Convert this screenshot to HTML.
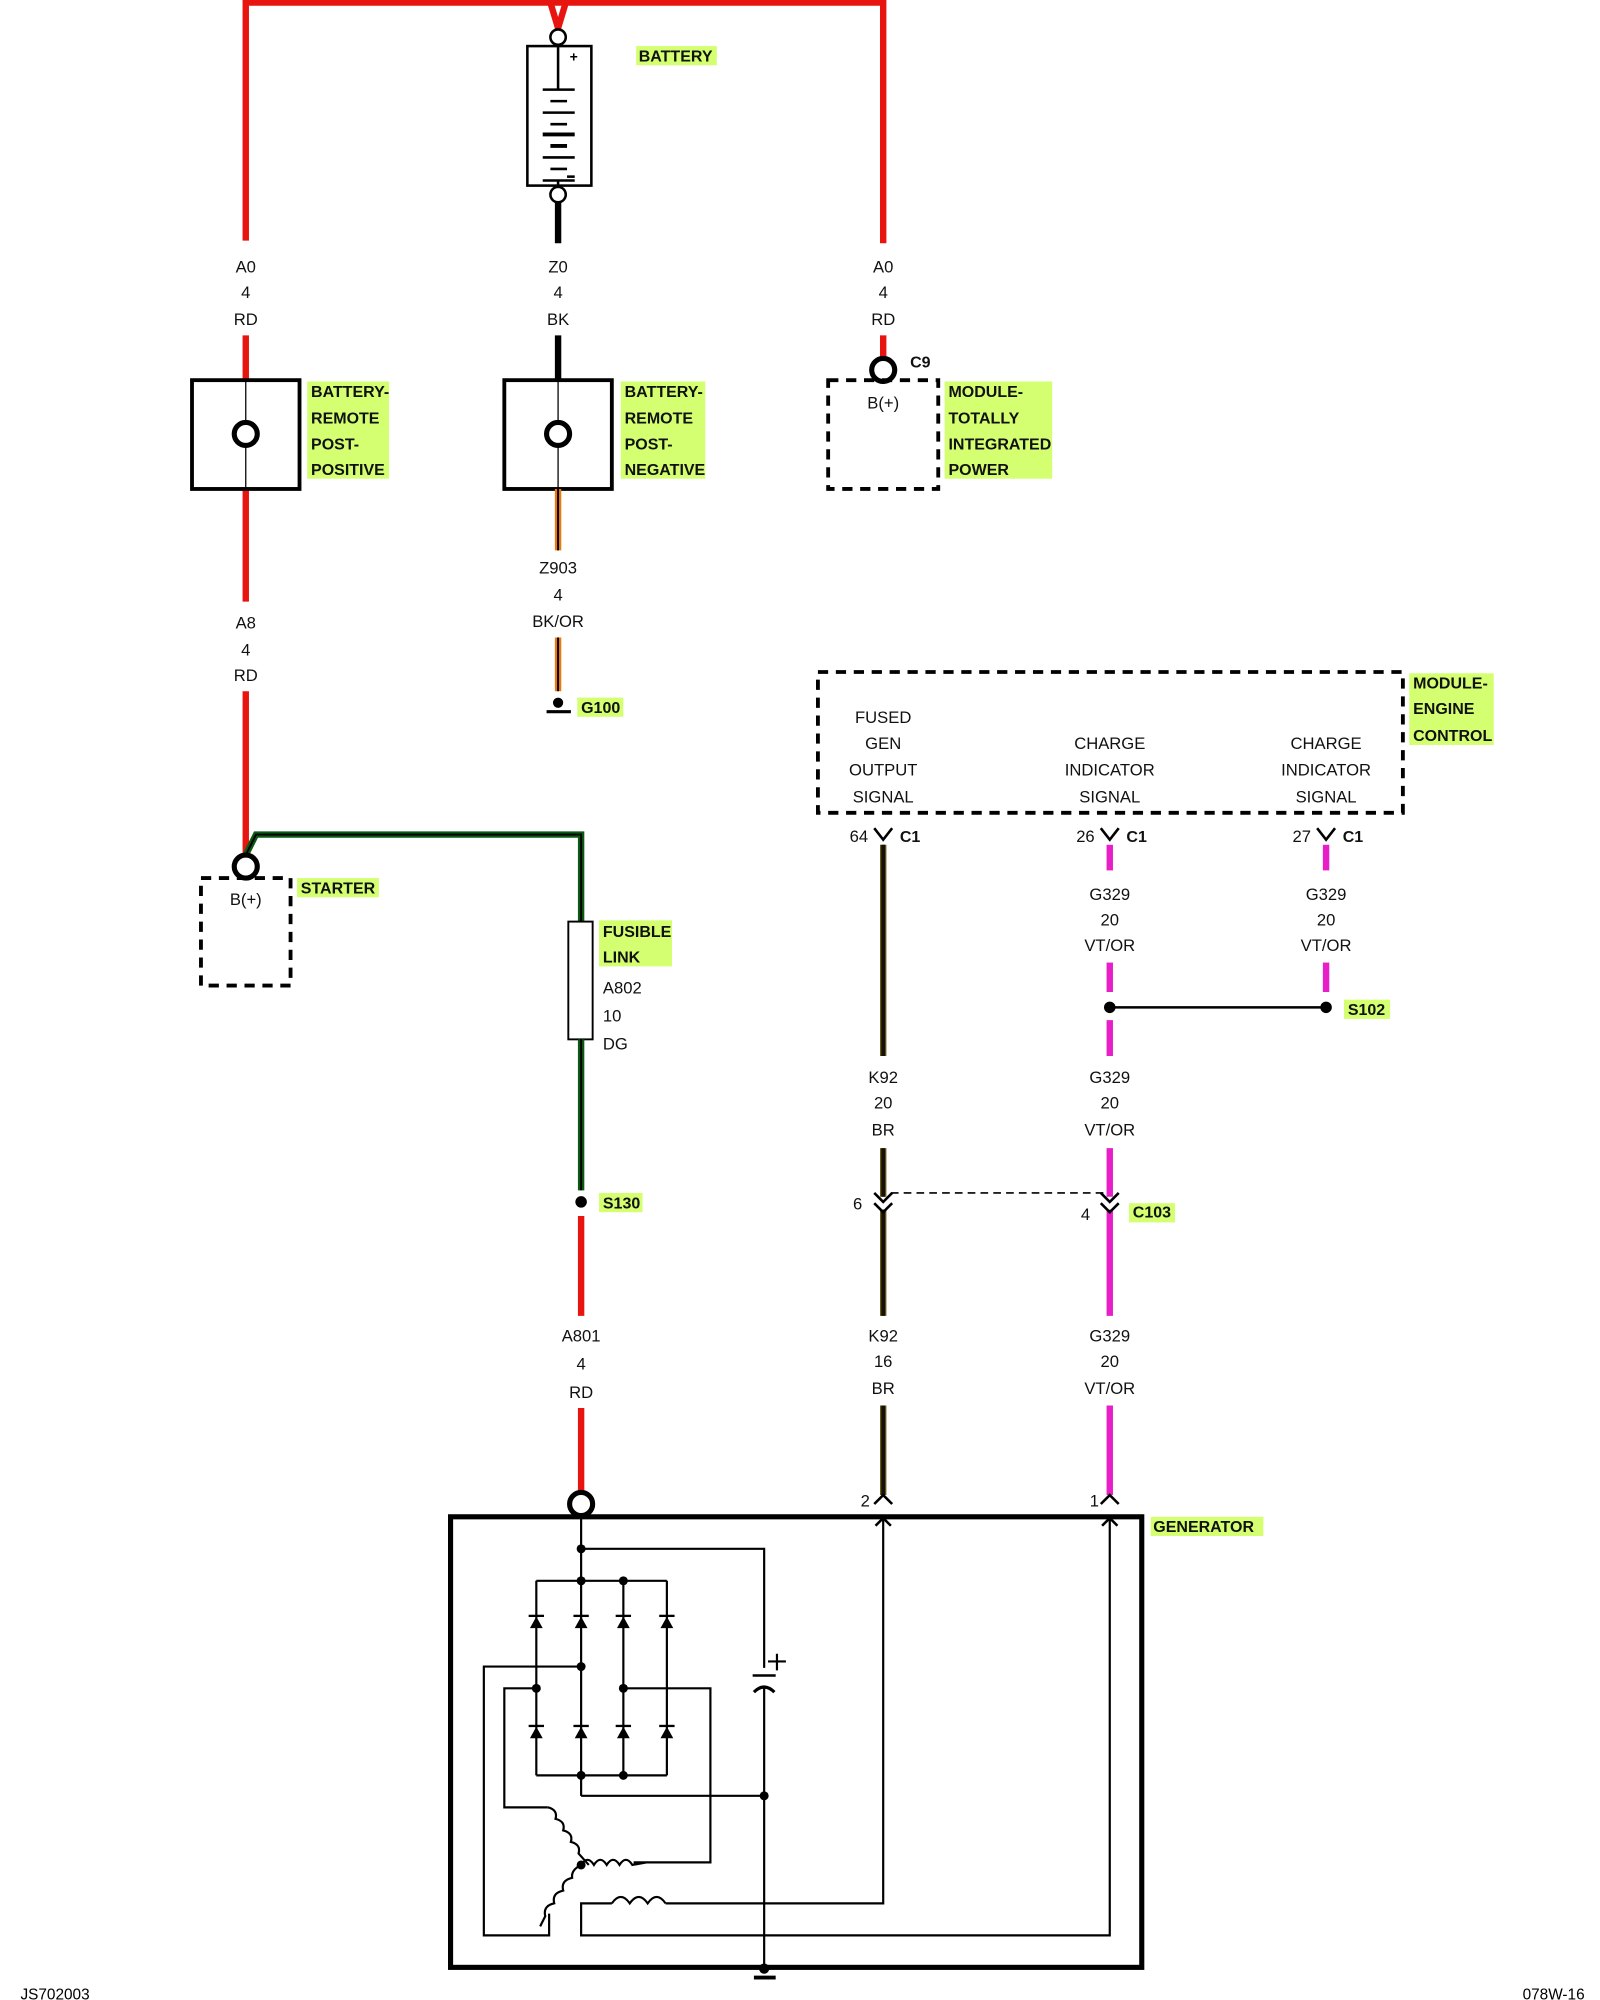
<!DOCTYPE html>
<html><head><meta charset="utf-8"><style>
html,body{margin:0;padding:0;background:#fff}
svg{display:block}
text{font-family:"Liberation Sans",sans-serif}
.l{font-size:13px;text-anchor:middle;fill:#111}
.b{font-size:12.5px;font-weight:bold;fill:#111}
</style></head><body>
<svg width="1600" height="2000" viewBox="0 0 1250 1562.5" preserveAspectRatio="none" xmlns="http://www.w3.org/2000/svg">
<defs><g id="d"><polygon points="-5,5 5,5 0,-4"/><rect x="-6" y="-5.5" width="12" height="1.8"/></g></defs>
<g fill="#d4ff70">
<rect x="497" y="36" width="63" height="15"/>
<rect x="240" y="298" width="64" height="76"/>
<rect x="485" y="298" width="66" height="76"/>
<rect x="738" y="298" width="84" height="76"/>
<rect x="451" y="545" width="36" height="15"/>
<rect x="1101" y="526" width="66" height="56"/>
<rect x="232" y="686" width="64" height="15"/>
<rect x="468" y="719" width="57" height="36"/>
<rect x="468" y="932" width="34" height="15"/>
<rect x="882" y="940" width="36" height="15"/>
<rect x="1050" y="781" width="36" height="15"/>
<rect x="899" y="1185" width="88" height="15"/>
</g>
<g fill="none" stroke="#e8140f" stroke-width="5">
<polyline points="192,188 192,2 690,2 690,190"/>
<polyline points="430,2 436,22 442,2"/>
<line x1="192" y1="262" x2="192" y2="297"/>
<line x1="192" y1="382" x2="192" y2="470"/>
<line x1="192" y1="540" x2="192" y2="668"/>
<line x1="690" y1="262" x2="690" y2="280"/>
<line x1="454" y1="950" x2="454" y2="1028"/>
<line x1="454" y1="1100" x2="454" y2="1165"/>
</g>
<circle cx="436" cy="29" r="6" fill="#fff" stroke="#000" stroke-width="2"/>
<rect x="412" y="36" width="50" height="109" fill="#fff" stroke="#000" stroke-width="2"/>
<circle cx="436" cy="152" r="6" fill="#fff" stroke="#000" stroke-width="2"/>
<g stroke="#000" stroke-width="2">
<line x1="436" y1="35" x2="436" y2="70"/>
<line x1="424" y1="70" x2="449" y2="70"/><line x1="430" y1="79" x2="443" y2="79"/>
<line x1="424" y1="88" x2="449" y2="88"/><line x1="430" y1="97" x2="443" y2="97"/>
<line x1="424" y1="105" x2="449" y2="105" stroke-width="3"/><line x1="430" y1="114" x2="443" y2="114" stroke-width="3"/>
<line x1="424" y1="123" x2="449" y2="123"/><line x1="430" y1="132" x2="443" y2="132"/>
<line x1="424" y1="141" x2="449" y2="141"/>
<line x1="436" y1="141" x2="436" y2="146"/>
<line x1="443" y1="138" x2="449" y2="138"/>
</g>
<text x="445" y="48" font-size="11" font-weight="bold">+</text>
<line x1="436" y1="158" x2="436" y2="190" stroke="#000" stroke-width="5"/>
<text x="499" y="48" class="b">BATTERY</text>
<g class="l">
<text x="192" y="213">A0</text><text x="192" y="233">4</text><text x="192" y="254">RD</text>
<text x="436" y="213">Z0</text><text x="436" y="233">4</text><text x="436" y="254">BK</text>
<text x="690" y="213">A0</text><text x="690" y="233">4</text><text x="690" y="254">RD</text>
<text x="192" y="491">A8</text><text x="192" y="512">4</text><text x="192" y="532">RD</text>
<text x="436" y="448">Z903</text><text x="436" y="469">4</text><text x="436" y="490">BK/OR</text>
<text x="690" y="319">B(+)</text><text x="192" y="707">B(+)</text>
<text x="690" y="565">FUSED</text><text x="690" y="585">GEN</text><text x="690" y="606">OUTPUT</text><text x="690" y="627">SIGNAL</text>
<text x="867" y="585">CHARGE</text><text x="867" y="606">INDICATOR</text><text x="867" y="627">SIGNAL</text>
<text x="1036" y="585">CHARGE</text><text x="1036" y="606">INDICATOR</text><text x="1036" y="627">SIGNAL</text>
<text x="671" y="658">64</text><text x="848" y="658">26</text><text x="1017" y="658">27</text>
<text x="867" y="703">G329</text><text x="867" y="723">20</text><text x="867" y="743">VT/OR</text>
<text x="1036" y="703">G329</text><text x="1036" y="723">20</text><text x="1036" y="743">VT/OR</text>
<text x="690" y="846">K92</text><text x="690" y="866">20</text><text x="690" y="887">BR</text>
<text x="867" y="846">G329</text><text x="867" y="866">20</text><text x="867" y="887">VT/OR</text>
<text x="670" y="945">6</text><text x="848" y="953">4</text>
<text x="690" y="1048">K92</text><text x="690" y="1068">16</text><text x="690" y="1089">BR</text>
<text x="867" y="1048">G329</text><text x="867" y="1068">20</text><text x="867" y="1089">VT/OR</text>
<text x="454" y="1048">A801</text><text x="454" y="1070">4</text><text x="454" y="1092">RD</text>
<text x="676" y="1177">2</text><text x="855" y="1177">1</text>
</g>
<g class="l" style="text-anchor:start">
<text x="471" y="776">A802</text><text x="471" y="798">10</text><text x="471" y="820">DG</text>
</g>
<g fill="none" stroke="#000" stroke-width="3">
<rect x="150" y="297" width="84" height="85"/><rect x="394" y="297" width="84" height="85"/>
</g>
<line x1="192" y1="297" x2="192" y2="382" stroke="#000" stroke-width="1"/>
<line x1="436" y1="297" x2="436" y2="382" stroke="#000" stroke-width="1"/>
<circle cx="192" cy="339" r="9" fill="#fff" stroke="#000" stroke-width="4"/>
<circle cx="436" cy="339" r="9" fill="#fff" stroke="#000" stroke-width="4"/>
<line x1="436" y1="262" x2="436" y2="297" stroke="#000" stroke-width="5"/>
<line x1="436" y1="382" x2="436" y2="430" stroke="#e87a10" stroke-width="5"/>
<line x1="436" y1="382" x2="436" y2="430" stroke="#000" stroke-width="1.5"/>
<line x1="436" y1="498" x2="436" y2="540" stroke="#e87a10" stroke-width="5"/>
<line x1="436" y1="498" x2="436" y2="540" stroke="#000" stroke-width="1.5"/>
<circle cx="436" cy="549" r="4"/><line x1="427" y1="556" x2="446" y2="556" stroke="#000" stroke-width="2.5"/>
<g class="b">
<text x="243" y="310">BATTERY-</text><text x="243" y="331">REMOTE</text><text x="243" y="351">POST-</text><text x="243" y="371">POSITIVE</text>
<text x="488" y="310">BATTERY-</text><text x="488" y="331">REMOTE</text><text x="488" y="351">POST-</text><text x="488" y="371">NEGATIVE</text>
<text x="741" y="310">MODULE-</text><text x="741" y="331">TOTALLY</text><text x="741" y="351">INTEGRATED</text><text x="741" y="371">POWER</text>
<text x="711" y="287">C9</text><text x="454" y="557">G100</text>
<text x="1104" y="538">MODULE-</text><text x="1104" y="558">ENGINE</text><text x="1104" y="579">CONTROL</text>
<text x="703" y="658">C1</text><text x="880" y="658">C1</text><text x="1049" y="658">C1</text>
<text x="235" y="698">STARTER</text><text x="471" y="732">FUSIBLE</text><text x="471" y="752">LINK</text>
<text x="471" y="944">S130</text><text x="1053" y="793">S102</text><text x="885" y="951">C103</text>
<text x="901" y="1197">GENERATOR</text>
</g>
<circle cx="690" cy="289" r="9" fill="#fff" stroke="#000" stroke-width="4"/>
<g fill="none" stroke="#000" stroke-width="3" stroke-dasharray="8,6">
<rect x="647" y="297" width="86" height="85"/>
<rect x="157" y="686" width="70" height="84"/>
<rect x="639" y="525" width="457" height="110"/>
</g>
<polyline points="192,668 200,652 454,652 454,720" fill="none" stroke="#0a5a14" stroke-width="5"/>
<polyline points="192,668 200,652 454,652 454,720" fill="none" stroke="#000" stroke-width="1.5"/>
<circle cx="192" cy="677" r="9" fill="#fff" stroke="#000" stroke-width="4"/>
<rect x="444" y="720" width="19" height="92" fill="#fff" stroke="#000" stroke-width="1.5"/>
<line x1="454" y1="812" x2="454" y2="930" stroke="#0a5a14" stroke-width="5"/>
<line x1="454" y1="812" x2="454" y2="930" stroke="#000" stroke-width="1.5"/>
<circle cx="454" cy="939" r="4.5"/>
<g stroke-width="5" fill="none">
<g stroke="#6b5a10">
<line x1="690" y1="660" x2="690" y2="825"/>
<line x1="690" y1="897" x2="690" y2="935"/>
<line x1="690" y1="945" x2="690" y2="1028"/>
<line x1="690" y1="1098" x2="690" y2="1168"/>
</g>
<g stroke="#111" stroke-width="3">
<line x1="690" y1="660" x2="690" y2="825"/>
<line x1="690" y1="897" x2="690" y2="935"/>
<line x1="690" y1="945" x2="690" y2="1028"/>
<line x1="690" y1="1098" x2="690" y2="1168"/>
</g>
<g stroke="#e81ec8">
<line x1="867" y1="660" x2="867" y2="680"/><line x1="867" y1="752" x2="867" y2="775"/><line x1="867" y1="797" x2="867" y2="825"/>
<line x1="1036" y1="660" x2="1036" y2="680"/><line x1="1036" y1="752" x2="1036" y2="775"/>
<line x1="867" y1="897" x2="867" y2="935"/><line x1="867" y1="945" x2="867" y2="1028"/><line x1="867" y1="1098" x2="867" y2="1168"/>
</g>
</g>
<line x1="867" y1="787" x2="1036" y2="787" stroke="#000" stroke-width="2"/>
<circle cx="867" cy="787" r="4.5"/><circle cx="1036" cy="787" r="4.5"/>
<line x1="696" y1="932" x2="862" y2="932" stroke="#000" stroke-width="1.3" stroke-dasharray="6,4"/>
<g fill="none" stroke="#000" stroke-width="2">
<polyline points="683,647 690,656 697,647"/><polyline points="860,647 867,656 874,647"/><polyline points="1029,647 1036,656 1043,647"/>
<polyline points="683,932 690,939 697,932"/><polyline points="683,940 690,947 697,940"/>
<polyline points="860,932 867,939 874,932"/><polyline points="860,940 867,947 874,940"/>
<polyline points="683,1175 690,1168 697,1175"/><polyline points="860,1175 867,1168 874,1175"/>
<polyline points="684,1192 690,1186 696,1192"/><polyline points="861,1192 867,1186 873,1192"/>
</g>
<rect x="352" y="1185" width="540" height="352" fill="none" stroke="#000" stroke-width="4"/>
<circle cx="454" cy="1175" r="9" fill="#fff" stroke="#000" stroke-width="4"/>
<g fill="none" stroke="#000" stroke-width="1.7">
<line x1="454" y1="1185" x2="454" y2="1403"/>
<polyline points="454,1210 597,1210 597,1303"/>
<line x1="419" y1="1235" x2="521" y2="1235"/>
<line x1="419" y1="1235" x2="419" y2="1387"/><line x1="487" y1="1235" x2="487" y2="1387"/><line x1="521" y1="1235" x2="521" y2="1387"/>
<line x1="419" y1="1387" x2="521" y2="1387"/>
<polyline points="454,1302 378,1302 378,1512 429,1512 429,1495"/>
<polyline points="419,1319 394,1319 394,1412 428,1412"/>
<polyline points="487,1319 555,1319 555,1455 495,1455"/>
<polyline points="454,1403 597,1403"/>
<line x1="597" y1="1318" x2="597" y2="1540"/>
<polyline points="520,1487 690,1487 690,1186"/>
<polyline points="478,1487 454,1487 454,1512 867,1512 867,1186"/>
<path d="M428,1412 q8,2 6,9 q8,2 6,9 q8,2 6,9 q8,2 6,9 l8,9"/>
<path d="M454,1457 q-8,4 -7,10 q-9,2 -7,10 q-9,2 -7,10 q-9,2 -7,10 l-4,8"/>
<path d="M454,1457 q5,-8 10,0 q5,-8 10,0 q5,-8 10,0 q5,-8 10,0 l11,-2"/>
<path d="M478,1487 q7,-10 14,0 q7,-10 14,0 q7,-10 14,0"/>
<line x1="588" y1="1309" x2="606" y2="1309" stroke-width="2"/>
<path d="M589,1322 q8,-8 16,0" stroke-width="2.5"/>
<line x1="607" y1="1292" x2="607" y2="1305"/><line x1="600" y1="1298" x2="614" y2="1298"/>
<line x1="589" y1="1545" x2="606" y2="1545" stroke-width="3"/>
</g>
<g>
<circle cx="454" cy="1210" r="3.5"/><circle cx="454" cy="1235" r="3.5"/><circle cx="487" cy="1235" r="3.5"/>
<circle cx="454" cy="1302" r="3.5"/><circle cx="419" cy="1319" r="3.5"/><circle cx="487" cy="1319" r="3.5"/>
<circle cx="454" cy="1387" r="3.5"/><circle cx="487" cy="1387" r="3.5"/><circle cx="597" cy="1403" r="3.5"/>
<circle cx="454" cy="1457" r="3.5"/><circle cx="597" cy="1538" r="4"/>
<use href="#d" x="419" y="1267"/><use href="#d" x="454" y="1267"/><use href="#d" x="487" y="1267"/><use href="#d" x="521" y="1267"/>
<use href="#d" x="419" y="1353"/><use href="#d" x="454" y="1353"/><use href="#d" x="487" y="1353"/><use href="#d" x="521" y="1353"/>
</g>
<text x="16" y="1562" font-size="12">JS702003</text>
<text x="1238" y="1562" font-size="12" text-anchor="end">078W-16</text>
</svg>
</body></html>
